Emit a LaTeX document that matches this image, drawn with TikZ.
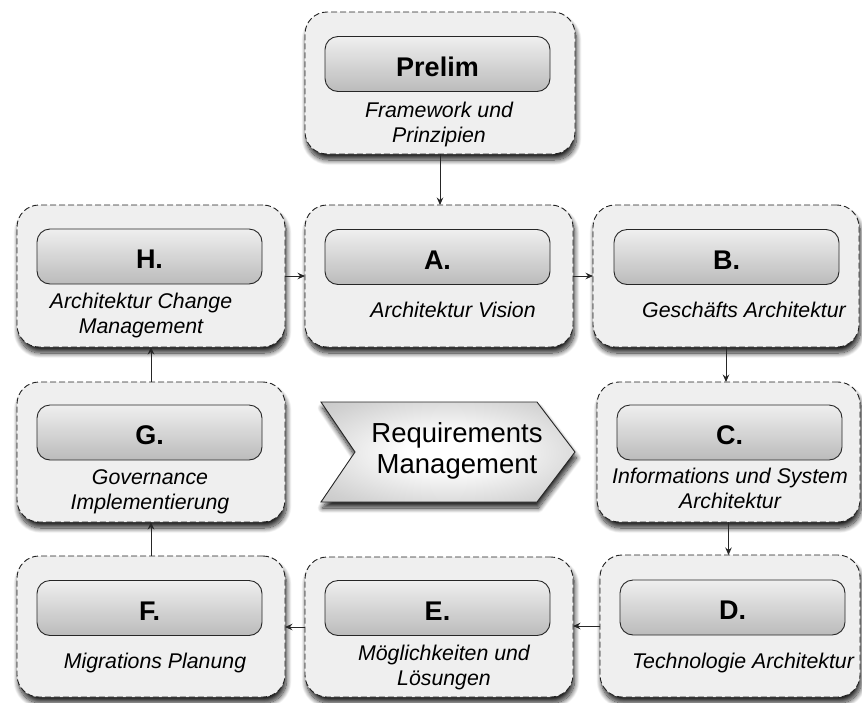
\documentclass[tikz,border=0pt]{standalone}
\usepackage{fontspec}
\setmainfont{Liberation Sans}
\usetikzlibrary{arrows.meta,shadows.blur}
\definecolor{boxfill}{HTML}{EFEFEF}
\definecolor{dashc}{HTML}{222222}
\definecolor{innertop}{HTML}{EFEFEF}
\definecolor{innerbot}{HTML}{BBBBBB}
\pgfdeclareradialshading{chevshade}{\pgfpoint{0bp}{0bp}}{color(0bp)=(white); color(8bp)=(white); color(30bp)=(black!18); color(50bp)=(black!30)}
\tikzset{
  softshadow/.style={blur shadow={shadow xshift=1.5pt, shadow yshift=-6pt, shadow blur radius=5pt, shadow blur steps=12, shadow opacity=85}},
  outerbox/.style={draw=dashc, fill=boxfill, dash pattern=on 6pt off 3pt, line width=0.9pt, rounded corners=22pt, minimum width=268pt, minimum height=142pt, inner sep=0pt, outer sep=0pt, softshadow},
  innerbox/.style={draw=black!85, line width=0.9pt, rounded corners=13pt, top color=innertop, bottom color=innerbot, minimum width=225pt, minimum height=55pt, inner sep=0pt, text height=24pt, text depth=0pt, font=\fontsize{27}{30}\selectfont\bfseries},
  desc/.style={font=\fontsize{21.3}{25}\selectfont\itshape, align=center, inner sep=0pt},
  flow/.style={draw=black!85, line width=0.9pt, -{Stealth[length=7.5pt,width=6.5pt,inset=2.5pt]}},
}
\begin{document}
\begin{tikzpicture}[x=1pt,y=-1pt]
\useasboundingbox (0,0) rectangle (862,702);
% outer boxes
\node[outerbox, minimum width=270pt] (prelim) at (440,83) {};
\node[outerbox] (h) at (151,276) {};
\node[outerbox] (a) at (439,276) {};
\node[outerbox, minimum width=266pt] (b) at (726,276) {};
\node[outerbox, minimum height=140pt] (g) at (151,452) {};
\node[outerbox, minimum width=263pt, minimum height=140pt] (c) at (728.5,452) {};
\node[outerbox, minimum height=141pt] (f) at (151,626.5) {};
\node[outerbox, minimum height=140pt] (e) at (439,627) {};
\node[outerbox, minimum width=260pt] (d) at (730,626) {};
% chevron
\path[draw=black!85, line width=0.9pt, shading=chevshade, softshadow]
  (321,402) -- (537,402) -- (575,452) -- (537,502) -- (321,502) -- (355,452) -- cycle;
\node[font=\fontsize{27.5}{31}\selectfont, align=center, inner sep=0pt] (req) at (457,450.5) {Requirements\\Management};
% inner label boxes
\node[innerbox] (prelimL) at (437.5,64) {Prelim};
\node[innerbox] (hL) at (149.5,256.5) {H.};
\node[innerbox] (aL) at (437.5,257) {A.};
\node[innerbox] (bL) at (726.5,257) {B.};
\node[innerbox] (gL) at (149.5,432.5) {G.};
\node[innerbox] (cL) at (729.5,432.5) {C.};
\node[innerbox] (fL) at (149.5,608) {F.};
\node[innerbox] (eL) at (437.5,608) {E.};
\node[innerbox] (dL) at (732.5,607.5) {D.};
% descriptions
\node[desc] (prelimT) at (439,124) {Framework und\\Prinzipien};
\node[desc] (hT) at (141,315) {Architektur Change\\Management};
\node[desc] (aT) at (453,310.3) {Architektur Vision};
\node[desc] (bT) at (744,310.3) {Geschäfts Architektur};
\node[desc] (gT) at (150,492) {Governance\\Implementierung};
\node[desc] (cT) at (730,488) {Informations und System\\Architektur};
\node[desc] (fT) at (155,662.6) {Migrations Planung};
\node[desc] (eT) at (444,667) {Möglichkeiten und\\Lösungen};
\node[desc] (dT) at (743,662.6) {Technologie Architektur};
% connectors
\draw[flow] (prelim.south) -- (prelim.south |- a.north);
\draw[flow] (h.east) -- (h.east -| a.west);
\draw[flow] (a.east) -- (a.east -| b.west);
\draw[flow] (b.south) -- (b.south |- c.north);
\draw[flow] (c.south) -- (c.south |- d.north);
\draw[flow] (d.west) -- (d.west -| e.east);
\draw[flow] (e.west) -- (e.west -| f.east);
\draw[flow] (f.north) -- (f.north |- g.south);
\draw[flow] (g.north) -- (g.north |- h.south);
\end{tikzpicture}
\end{document}
